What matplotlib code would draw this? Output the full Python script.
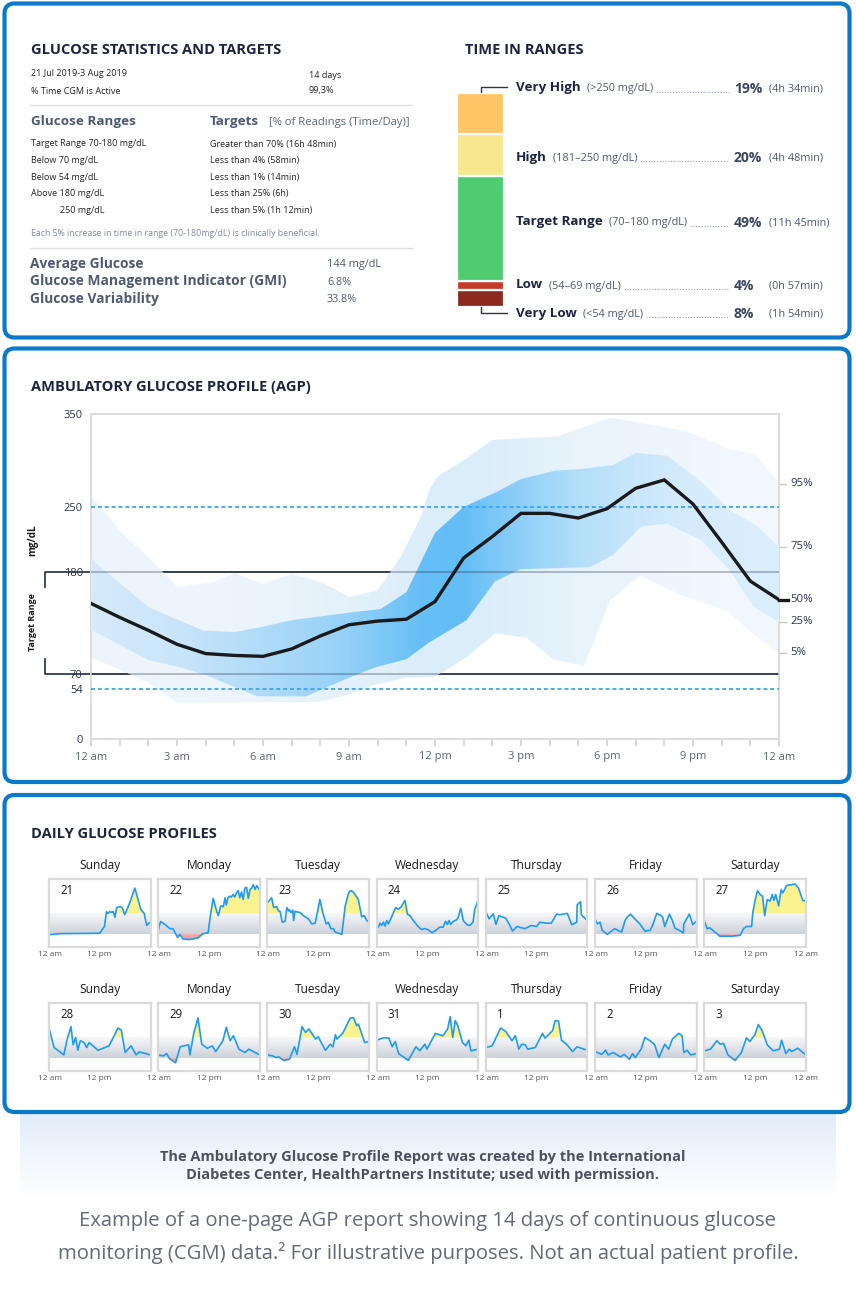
import numpy as np
import matplotlib
matplotlib.use('Agg')
import matplotlib.pyplot as plt
import matplotlib.colors as mcolors
from matplotlib.patches import FancyBboxPatch, Polygon
from matplotlib import transforms

plt.rcParams['font.family'] = ['Open Sans', 'DejaVu Sans']

W, H = 856, 1291
NAVY = '#1b2440'
BLUE = '#0a79c9'

# ---------------- data ----------------
period = '21 Jul 2019-3 Aug 2019'
period_days = '14 days'
cgm_active = '99,3%'
range_rows = ['Target Range 70-180 mg/dL', 'Below 70 mg/dL', 'Below 54 mg/dL',
              'Above 180 mg/dL', '250 mg/dL']
target_rows = ['Greater than 70% (16h 48min)', 'Less than 4% (58min)', 'Less than 1% (14min)',
               'Less than 25% (6h)', 'Less than 5% (1h 12min)']
summary_names = ['Average Glucose', 'Glucose Management Indicator (GMI)', 'Glucose Variability']
summary_values = ['144 mg/dL', '6.8%', '33.8%']

# time in ranges, bottom to top
tir_names = ['Very Low', 'Low', 'Target Range', 'High', 'Very High']
tir_ranges = ['(<54 mg/dL)', '(54\u201369 mg/dL)', '(70\u2013180 mg/dL)', '(181\u2013250 mg/dL)', '(>250 mg/dL)']
tir_pct = [8, 4, 49, 20, 19]
tir_time = ['(1h 54min)', '(0h 57min)', '(11h 45min)', '(4h 48min)', '(4h 34min)']
tir_colors = ['#8b2b20', '#c63c2c', '#4fcb72', '#f7e78e', '#fec566']

# AGP percentiles (hour, mg/dL)
p95_h = [0, 1.1, 2, 3, 4.3, 5, 6, 7, 8.1, 9, 10, 10.8, 11.5, 11.8, 12.1, 13.1, 14, 16.3, 18.1, 19.3, 20.8, 22.2, 23.2, 24]
p95_v = [262, 221, 196, 164, 169, 179, 167, 178, 168, 153, 160, 196, 239, 268, 283, 302, 322, 326, 346, 340, 331, 313, 306, 275]
p75_h = [0, 2, 3.9, 5, 6, 7, 8, 9, 10.1, 11, 12, 13, 14.15, 15, 16.2, 17.2, 18.2, 19, 20.1, 21.3, 22.3, 23.2, 24]
p75_v = [194, 142, 117, 115, 121, 128, 132, 136, 140, 158, 222, 250, 266, 280, 289, 291, 295, 308, 305, 277, 246, 230, 207]
p50_h = list(range(25))
p50_v = [146, 131, 117, 102, 92, 90, 89, 97, 111, 123, 127, 129, 148, 195, 218, 243, 243, 238, 248, 270, 279, 253, 212, 170, 150]
p25_h = [0, 2, 3, 4, 5.8, 7.5, 9, 9.9, 11, 11.8, 13.1, 14.1, 15, 17.4, 18.2, 19.2, 20.1, 21.3, 22.3, 23.1, 24]
p25_v = [118, 85, 78, 69, 46, 46, 66, 77, 86, 104, 128, 170, 183, 185, 198, 229, 232, 214, 181, 143, 126]
p5_h = [0, 2, 3, 8, 9, 9.85, 11, 12, 13.1, 14.1, 15.2, 16.1, 17.2, 18.1, 19.15, 20.65, 22.2, 23.1, 24]
p5_v = [88, 61, 39, 40, 48, 58, 66, 67, 88, 114, 109, 86, 79, 149, 176, 154, 138, 113, 93]
pct_labels = ['95%', '75%', '50%', '25%', '5%']
agp_yticks = [0, 54, 70, 180, 250, 350]
agp_xlabels = ['12 am', '3 am', '6 am', '9 am', '12 pm', '3 pm', '6 pm', '9 pm', '12 am']

# daily profiles
weekdays = ['Sunday', 'Monday', 'Tuesday', 'Wednesday', 'Thursday', 'Friday', 'Saturday']
day_numbers = [21, 22, 23, 24, 25, 26, 27, 28, 29, 30, 31, 1, 2, 3]
day_hours = [
    [0, 2.5, 12, 13.1, 13.6, 14, 14.4, 14.8, 15.2, 15.6, 16, 16.8, 17.3, 17.9, 19.1, 20.3, 21.7, 22.5, 23.1, 23.6, 24],
    [0, 0.55, 1.6, 2.8, 3.5, 4.1, 4.6, 5.1, 5.9, 7.5, 9.4, 10.6, 11.8, 12.4, 13, 13.8, 14.2, 14.8, 15.4, 15.8, 16.1,
     16.5, 16.9, 17.3, 17.7, 18.1, 18.5, 18.9, 19.3, 19.7, 20.1, 20.5, 20.9, 21.3, 21.7, 22.1, 22.5, 22.9, 23.3, 23.7, 24],
    [0, 1, 1.5, 2.2, 2.6, 3.0, 3.5, 4.2, 4.6, 5.0, 5.2, 5.6, 6.0, 6.2, 6.5, 7.7, 8.5, 9.7, 10.5, 11.3, 11.9, 12.4,
     13.2, 13.9, 14.4, 15.0, 15.6, 16.0, 16.8, 17.6, 18.4, 19.2, 19.7, 20.3, 21.5, 22.3, 22.9, 23.5, 24],
    [0, 0.4, 0.8, 1.2, 1.6, 2.0, 2.4, 2.8, 3.5, 4.5, 5.1, 5.8, 6.7, 7.3, 7.9, 8.7, 9.8, 10.6, 11.4, 12.2, 13.1, 14.2,
     14.9, 15.7, 16.3, 16.7, 17.1, 17.5, 18.1, 18.9, 19.3, 19.9, 20.5, 21.3, 22.0, 22.8, 23.2, 24],
    [0, 0.8, 1.75, 2.4, 3.1, 4.1, 4.7, 5.7, 6.3, 7.4, 8.4, 9.2, 10.8, 12.0, 12.8, 14.3, 15.5, 16.7, 17.5, 18.7, 19.3,
     20.3, 21.5, 21.6, 22.4, 22.6, 23.2, 24],
    [0, 0.55, 1.2, 1.7, 2.9, 3.9, 4.7, 5.7, 6.3, 7.1, 7.6, 8.4, 9.2, 10.6, 11.8, 13.0, 13.6, 14.6, 15.5, 16.0, 16.5,
     17.6, 18.3, 18.9, 19.9, 20.9, 21.0, 22.3, 23.1, 24],
    [0, 0.7, 1.3, 2.5, 3.7, 6.5, 8.5, 9.3, 10.0, 11.2, 11.5, 12.0, 12.6, 13.2, 13.8, 14.3, 14.9, 15.6, 16.1, 16.5,
     16.9, 17.6, 18.2, 18.6, 19.2, 19.5, 20.7, 21.5, 22.3, 23.3, 24],
    [0, 1.2, 3.5, 4.3, 5.2, 5.7, 6.3, 6.8, 7.4, 8.3, 8.9, 9.5, 11.6, 14.2, 15.3, 16.3, 17.1, 18.0, 19.4, 20.6, 21.4, 24],
    [0, 1.2, 2.0, 2.6, 4.1, 5.2, 7.2, 7.5, 8.4, 9.4, 10.3, 11.6, 12.8, 13.6, 15.3, 16.1, 17.0, 17.8, 19.1, 20.5, 21.4, 24],
    [0, 1.3, 2.1, 2.7, 3.8, 5.2, 6.4, 7.0, 8.2, 9.0, 9.8, 11.4, 12.0, 13.7, 14.9, 15.5, 16.1, 16.4, 17.8, 19.6, 20.4,
     21.1, 21.5, 22.2, 23.0, 24],
    [0, 1.7, 2.9, 3.7, 4.4, 5.2, 7.5, 9.3, 10.2, 11.4, 11.9, 13.9, 15.7, 16.8, 17.4, 18.0, 18.6, 19.2, 20.3, 21.1,
     21.8, 22.3, 24],
    [0, 1.5, 3.5, 4.7, 6.2, 7.0, 7.8, 8.5, 9.3, 9.9, 11.7, 13.4, 14.0, 15.8, 16.4, 17.2, 17.9, 19.1, 20.5, 21.6, 24],
    [0, 1.2, 1.6, 2.5, 3.1, 4.3, 6.0, 6.9, 8.1, 8.9, 9.5, 10.9, 11.8, 13.0, 14.1, 15.1, 16.5, 17.4, 18.3, 19.8, 20.6,
     21.0, 21.8, 22.6, 24],
    [0, 1.5, 3.0, 3.8, 4.6, 5.6, 7.3, 8.8, 10.0, 10.8, 12.0, 12.8, 13.7, 14.9, 16.3, 17.8, 18.3, 19.3, 20.1, 20.7, 22.1, 24],
]
day_values = [
    [64, 70, 72, 109, 189, 180, 191, 185, 191, 159, 212, 217, 212, 173, 238, 318, 203, 180, 114, 127, 132],
    [88, 136, 120, 97, 97, 70, 49, 66, 40, 38, 47, 70, 75, 176, 262, 194, 168, 221, 217, 265, 226,
     265, 274, 269, 283, 269, 292, 304, 265, 297, 256, 318, 322, 262, 310, 318, 336, 310, 331, 318, 306],
    [238, 265, 212, 217, 194, 191, 132, 137, 212, 194, 201, 185, 198, 141, 191, 185, 168, 150, 123, 127, 194, 256,
     176, 123, 132, 97, 97, 79, 72, 66, 221, 292, 304, 297, 256, 162, 168, 141, 132],
    [120, 105, 127, 114, 132, 111, 141, 123, 159, 212, 203, 215, 251, 176, 168, 141, 109, 93, 97, 91, 75, 91,
     105, 105, 137, 120, 141, 120, 136, 145, 159, 208, 141, 120, 114, 132, 203, 251],
    [190, 150, 178, 120, 168, 159, 155, 114, 84, 109, 102, 97, 114, 109, 132, 127, 127, 176, 173, 178, 180,
     118, 132, 226, 244, 173, 159, 141],
    [150, 123, 132, 88, 66, 84, 97, 84, 79, 141, 159, 176, 155, 123, 84, 88, 114, 180, 170, 159, 109,
     176, 141, 100, 88, 74, 123, 176, 120, 137],
    [141, 97, 102, 79, 56, 56, 61, 97, 109, 109, 185, 247, 304, 283, 274, 168, 256, 247, 283, 251,
     283, 221, 310, 292, 318, 333, 336, 340, 318, 251, 247],
    [231, 125, 85, 171, 239, 140, 180, 110, 162, 152, 125, 152, 110, 134, 184, 231, 220, 98, 134, 85, 101, 85],
    [85, 79, 92, 66, 42, 129, 140, 85, 202, 286, 143, 121, 134, 103, 162, 235, 162, 189, 116, 98, 116, 85],
    [85, 79, 70, 74, 55, 61, 129, 88, 239, 207, 226, 171, 184, 110, 143, 129, 195, 171, 202, 286, 286,
     244, 253, 207, 152, 158],
    [165, 178, 176, 129, 158, 92, 55, 129, 107, 143, 116, 202, 189, 226, 293, 180, 272, 244, 152, 134,
     165, 107, 116],
    [125, 134, 231, 213, 162, 189, 116, 143, 140, 116, 125, 202, 176, 217, 272, 268, 165, 143, 103, 129, 110],
    [103, 92, 88, 110, 85, 98, 74, 88, 61, 92, 70, 116, 180, 162, 140, 70, 143, 116, 171, 202, 189,
     98, 110, 85, 92],
    [107, 116, 162, 143, 147, 85, 55, 98, 178, 158, 195, 250, 217, 140, 107, 116, 165, 92, 116, 103, 121, 85],
]

# ---------------- figure ----------------
fig = plt.figure(figsize=(W / 100, H / 100), dpi=100)
bg = fig.add_axes([0, 0, 1, 1])
bg.axis('off')


def px_axes(l, t, w, h):
    return fig.add_axes([l / W, 1 - (t + h) / H, w / W, h / H])


def fix_bg():
    bg.set_xlim(0, W)
    bg.set_ylim(H, 0)


# footer gradient
g = np.linspace(0, 1, 100)[:, None, None]
top_c = np.array(mcolors.to_rgb('#e1ecf9'))
img = top_c * (1 - g) + np.ones(3) * g
bg.imshow(img, extent=[20, 836, 1198, 1112], aspect='auto', zorder=0)
fix_bg()

for y0, y1 in [(3.5, 337.5), (348.5, 782), (795, 1112)]:
    bg.add_patch(FancyBboxPatch((4.5, y0), 845, y1 - y0, boxstyle='round,pad=0,rounding_size=10',
                                lw=3, edgecolor=BLUE, facecolor='white', zorder=1))

# ---- glucose statistics ----
bg.text(31, 50, 'GLUCOSE STATISTICS AND TARGETS', fontsize=10.5, fontweight='bold', color=NAVY, va='center')
bg.text(31, 74, period, fontsize=6.5, color='#222222', va='center')
bg.text(309, 75, period_days, fontsize=6.5, color='#222222', va='center')
bg.text(31, 91, '% Time CGM is Active', fontsize=6.5, color='#222222', va='center')
bg.text(309, 91, cgm_active, fontsize=6.5, color='#222222', va='center')
bg.plot([30, 412], [105, 105], color='#dddddd', lw=1, zorder=2)
bg.text(31, 122, 'Glucose Ranges', fontsize=9.7, fontweight='bold', color='#4d5a73', va='center')
bg.text(210, 122, 'Targets', fontsize=9.7, fontweight='bold', color='#4d5a73', va='center')
bg.text(269, 123, '[% of Readings (Time/Day)]', fontsize=8.1, color='#5a6580', va='center')
for i, (a, b) in enumerate(zip(range_rows, target_rows)):
    y = 144 + i * 16.6
    bg.text(60 if i == 4 else 31, y, a, fontsize=6.5, color='#222222', va='center')
    bg.text(210, y, b, fontsize=6.5, color='#222222', va='center')
bg.text(31, 233, 'Each 5% increase in time in range (70-180mg/dL) is clinically beneficial.',
        fontsize=6.3, color='#7b8aa6', va='center')
bg.plot([30, 412], [248, 248], color='#dddddd', lw=1, zorder=2)
for i, (a, b) in enumerate(zip(summary_names, summary_values)):
    y = 264 + i * 17.5
    bg.text(30, y, a, fontsize=9.9, fontweight='bold', color='#4d5a73', va='center')
    bg.text(327, y + 1, b, fontsize=7.8, color='#4d5a73', va='center')

# ---- time in ranges ----
bg.text(465, 50, 'TIME IN RANGES', fontsize=10.5, fontweight='bold', color=NAVY, va='center')
ax_tir = px_axes(457, 93, 47, 214)
bottom = 0
for p, c in zip(tir_pct, tir_colors):
    ax_tir.bar(0, p, bottom=bottom, width=1, color=c, edgecolor='white', linewidth=1.6)
    bottom += p
ax_tir.set_xlim(-0.5, 0.5)
ax_tir.set_ylim(0, sum(tir_pct))
ax_tir.axis('off')
bg.plot([481, 481, 507], [93, 86.7, 86.7], color='#2b3550', lw=1, zorder=2)
bg.plot([481, 481, 507], [307, 313, 313], color='#2b3550', lw=1, zorder=2)

tir_label_y = [313, 285, 222, 157, 88]
name_txt, range_txt = [], []
for name, y in zip(tir_names, tir_label_y):
    name_txt.append(bg.text(516, y, name, fontsize=9.6, fontweight='bold', color=NAVY, va='center'))
fig.canvas.draw()
r = fig.canvas.get_renderer()
for k, (rng, pct, tm, y) in enumerate(zip(tir_ranges, tir_pct, tir_time, tir_label_y)):
    x1 = name_txt[k].get_window_extent(r).x1
    t = bg.text(x1 + 6, y + 1, rng, fontsize=7.8, color='#4d5a73', va='center')
    range_txt.append(t)
    bg.text(734, y + 1, f'{pct}%', fontsize=10, fontweight='bold', color='#3a4560', va='center')
    bg.text(769, y + 1, tm, fontsize=7.8, color='#4d5a73', va='center')
fig.canvas.draw()
for k, y in enumerate(tir_label_y):
    x1 = range_txt[k].get_window_extent(r).x1
    bg.plot([x1 + 3, 729], [y + 4, y + 4], color='#9aa5b5', lw=0.8, ls=(0, (1, 1.5)), zorder=2)

# ---- AGP ----
bg.text(31, 387, 'AMBULATORY GLUCOSE PROFILE (AGP)', fontsize=10.5, fontweight='bold', color=NAVY, va='center')
ax = px_axes(91, 414, 688, 325)
ax.set_zorder(2)


def gradient_band(ax, up_h, up_v, lo_h, lo_v, stop_h, stop_c, z):
    verts = list(zip(up_h, up_v)) + list(zip(lo_h[::-1], lo_v[::-1]))
    poly = Polygon(verts, closed=True, facecolor='none', edgecolor='none')
    ax.add_patch(poly)
    xs = np.linspace(0, 24, 480)
    rgb = np.array([mcolors.to_rgb(c) for c in stop_c])
    row = np.stack([np.interp(xs, stop_h, rgb[:, k]) for k in range(3)], axis=-1)
    im = ax.imshow(row[None, :, :], extent=[0, 24, 0, 350], aspect='auto', origin='lower',
                   zorder=z, interpolation='bilinear')
    im.set_clip_path(poly)


tr = transforms.blended_transform_factory(bg.transData, ax.transData)
# dark target lines under bands
for yv, d in [(180, -16), (70, 16)]:
    ax.plot([45, 45, 779], [yv + d, yv, yv], color='#1f2b4a', lw=1.2, transform=tr, clip_on=False, zorder=1)

gradient_band(ax, p95_h, p95_v, p5_h, p5_v,
              [0, 5, 9, 12, 14, 17, 20, 24],
              ['#eef5fd', '#edf5fc', '#e4f1fa', '#dbedf9', '#dceef9', '#e8f3fb', '#eef6fd', '#f2f8fe'], 2)
gradient_band(ax, p75_h, p75_v, p25_h, p25_v,
              [0, 3, 6, 9, 11.5, 13, 15, 17, 19, 21, 24],
              ['#d6eafb', '#c9e5fa', '#b0dbf8', '#94d0f8', '#66bff6', '#64bef6', '#8fcff8', '#b3def9',
               '#c9e6fb', '#d6ecfc', '#dbeefc'], 3)
ax.axhline(180, color='#1f2b4a', lw=1.2, alpha=0.35, zorder=4)
ax.axhline(70, color='#1f2b4a', lw=1.2, alpha=0.35, zorder=4)
for yv in [250, 54]:
    ax.axhline(yv, color='#3aa5f0', lw=1.3, ls=(0, (2.2, 1.6)), zorder=4)
ax.plot(p50_h, p50_v, color='#1a1a1a', lw=2.4, zorder=5, solid_joinstyle='miter')

ends = [p95_v[-1], p75_v[-1], p50_v[-1], p25_v[-1], p5_v[-1]]
for lab, yv in zip(pct_labels, ends):
    if lab == '50%':
        ax.plot([24, 24.3], [yv, yv], color='#1a1a1a', lw=2.4, clip_on=False, zorder=5)
    else:
        ax.plot([24.05, 24.25], [yv, yv], color='#c8c8c8', lw=1, clip_on=False)
    ax.text(24.4, yv, lab, fontsize=8.2, color='#2b3550', va='center')

ax.set_xlim(0, 24)
ax.set_ylim(0, 350)
ax.set_yticks(agp_yticks)
ax.set_yticklabels([str(v) for v in agp_yticks])
ax.set_xticks(range(25))
ax.set_xticklabels([agp_xlabels[i // 3] if i % 3 == 0 else '' for i in range(25)])
ax.tick_params(axis='y', length=0, pad=6, labelsize=8, labelcolor='#2b3550')
ax.tick_params(axis='x', length=5, width=1.2, color='#d0d0d0', pad=4, labelsize=8, labelcolor='#5c6478')
for s in ax.spines.values():
    s.set_color('#dcdcdc')
    s.set_linewidth(1.4)
bg.text(33, 540, 'mg/dL', rotation=90, fontsize=7.2, fontweight='bold', color='#1a1a1a', ha='center', va='center')
bg.text(33, 622, 'Target Range', rotation=90, fontsize=6.5, fontweight='bold', color='#1a1a1a',
        ha='center', va='center')

# ---- daily profiles ----
bg.text(31, 834, 'DAILY GLUCOSE PROFILES', fontsize=10.5, fontweight='bold', color=NAVY, va='center')
band = np.linspace(0, 1, 60)[:, None, None]
c_lo = np.array(mcolors.to_rgb('#cdd1d9'))
c_hi = np.array(mcolors.to_rgb('#f7f8fa'))
band_img = c_lo * (1 - band) + c_hi * band
for k, (hrs, vals) in enumerate(zip(day_hours, day_values)):
    row, col = divmod(k, 7)
    left = 49 + col * 109.2
    top = 878.5 + row * 124
    a = px_axes(left, top, 101.5, 68)
    hrs = np.array(hrs, dtype=float)
    vals = np.array(vals, dtype=float)
    a.imshow(band_img, extent=[0, 24, 70, 180], aspect='auto', origin='lower', zorder=0)
    a.fill_between(hrs, vals, 180, where=vals > 180, interpolate=True, color='#faf28e', lw=0, zorder=1)
    a.fill_between(hrs, vals, 70, where=vals < 70, interpolate=True, color='#f2a3a3', lw=0, zorder=1)
    a.plot(hrs, vals, color='#1f9cf0', lw=1.2, zorder=2)
    a.set_xlim(0, 24)
    a.set_ylim(0, 370)
    a.set_yticks([])
    a.set_xticks([])
    for s in a.spines.values():
        s.set_color('#dadada')
        s.set_linewidth(1.6)
    a.text(0.11, 0.82, str(day_numbers[k]), transform=a.transAxes, fontsize=8.3, color='#1a1a1a', va='center')
    bg.text(left + 50.75, top - 12.5, weekdays[col], fontsize=8.6, color='#1a1a1a', ha='center', va='center')
    ly = top + 76.5
    bg.text(left + 1, ly, '12 am', fontsize=6, color='#555555', ha='center', va='center')
    bg.text(left + 50.75, ly, '12 pm', fontsize=6, color='#555555', ha='center', va='center')
    if col == 6:
        bg.text(left + 101.5, ly, '12 am', fontsize=6, color='#555555', ha='center', va='center')

# ---- footer ----
bg.text(423, 1157, 'The Ambulatory Glucose Profile Report was created by the International',
        fontsize=10.5, fontweight='bold', color='#4b5160', ha='center', va='center')
bg.text(423, 1175, 'Diabetes Center, HealthPartners Institute; used with permission.',
        fontsize=10.5, fontweight='bold', color='#4b5160', ha='center', va='center')
bg.text(428, 1221, 'Example of a one-page AGP report showing 14 days of continuous glucose',
        fontsize=14.6, color='#62697a', ha='center', va='center')
bg.text(428, 1253, 'monitoring (CGM) data.\u00b2 For illustrative purposes. Not an actual patient profile.',
        fontsize=14.6, color='#62697a', ha='center', va='center')

fix_bg()
fig.savefig('out.png', dpi=100)
